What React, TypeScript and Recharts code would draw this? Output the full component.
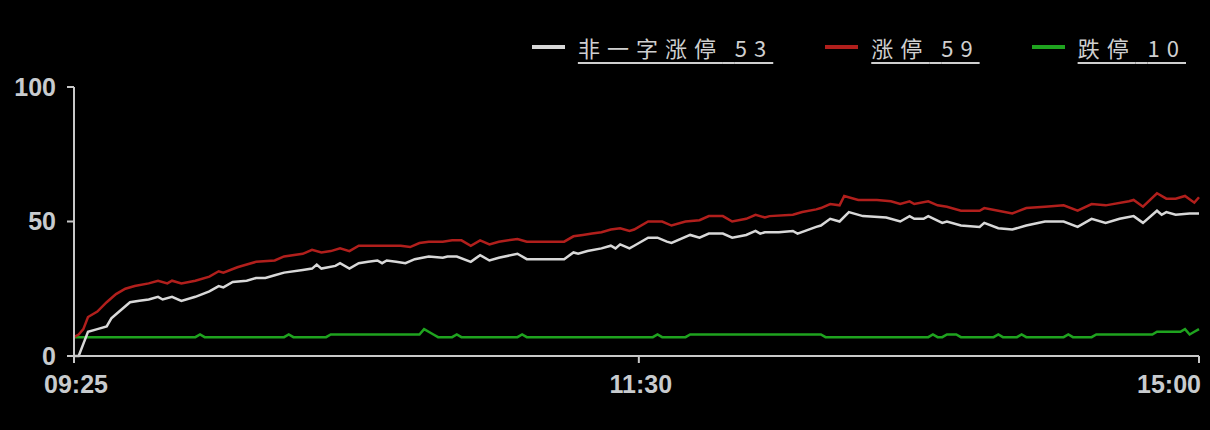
import React from 'react';
import { LineChart, Line, XAxis, YAxis } from 'recharts';

// x positions are trading-minute indexes: 0 = 09:25, 121 = 11:30, 241 = 15:00
const X_TICKS = [0, 121, 241];
const X_LABELS = ['09:25', '11:30', '15:00'];
const Y_TICKS = [0, 50, 100];

const whiteT = [0, 1, 2, 3, 5, 7, 8, 9, 11, 12, 14, 16, 18, 19, 21, 23, 26, 29, 31, 32, 34, 37, 39, 41, 43, 45, 49, 51, 52, 53, 56, 57, 59, 61, 63, 65, 66, 67, 69, 71, 73, 76, 79, 80, 82, 85, 87, 89, 91, 95, 97, 99, 105, 107, 108, 110, 113, 115, 116, 117, 119, 120, 123, 125, 127, 128, 132, 134, 136, 139, 141, 144, 146, 147, 148, 151, 154, 155, 159, 160, 162, 164, 166, 169, 174, 177, 179, 180, 182, 183, 186, 187, 190, 194, 195, 198, 201, 204, 208, 212, 215, 218, 221, 224, 227, 229, 232, 233, 234, 236, 239, 241];
const whiteV = [0, 0, 4.5, 9, 10, 11, 14, 15.5, 18.5, 20, 20.5, 21, 22, 21, 22, 20.5, 22, 24, 26, 25.5, 27.5, 28, 29, 29, 30, 31, 32, 32.5, 34, 32.5, 33.5, 34.5, 32.5, 34.5, 35, 35.5, 34.5, 35.5, 35, 34.5, 36, 37, 36.5, 37, 37, 35, 37.5, 35.5, 36.5, 38, 36, 36, 36, 38.5, 38, 39, 40, 41, 40, 41.5, 40, 41, 44, 44, 42.5, 42, 45, 44, 45.5, 45.5, 44, 45, 46.5, 45.5, 46, 46, 46.5, 45.5, 48, 48.5, 51, 50, 53.5, 52, 51.5, 50, 52, 51, 51, 52, 49.5, 50, 48.5, 48, 49.5, 47.5, 47, 48.5, 50, 50, 48, 51, 49.5, 51, 52, 49.5, 54, 52.5, 53.5, 52.5, 53, 53];

const redT = [0, 1, 2, 3, 5, 7, 9, 11, 13, 16, 18, 20, 21, 23, 26, 29, 31, 32, 35, 37, 39, 43, 45, 49, 51, 53, 55, 57, 59, 61, 64, 67, 70, 72, 74, 76, 79, 81, 83, 85, 87, 89, 91, 95, 97, 100, 105, 107, 109, 111, 113, 115, 117, 119, 120, 123, 126, 128, 131, 134, 136, 139, 141, 144, 146, 148, 149, 154, 156, 159, 160, 162, 164, 165, 168, 172, 175, 177, 179, 180, 183, 185, 187, 190, 194, 195, 198, 201, 204, 208, 212, 215, 218, 221, 226, 227, 229, 232, 234, 236, 238, 240, 241];
const redV = [7, 8, 10, 14.5, 16.5, 20, 23, 25, 26, 27, 28, 27, 28, 27, 28, 29.5, 31.5, 31, 33, 34, 35, 35.5, 37, 38, 39.5, 38.5, 39, 40, 39, 41, 41, 41, 41, 40.5, 42, 42.5, 42.5, 43, 43, 41, 43, 41.5, 42.5, 43.5, 42.5, 42.5, 42.5, 44.5, 45, 45.5, 46, 47, 47.5, 46.5, 47, 50, 50, 48.5, 50, 50.5, 52, 52, 50, 51, 52.5, 51.5, 52, 52.5, 53.5, 54.5, 55, 56.5, 56, 59.5, 58, 58, 57.5, 56.5, 57.5, 56.5, 57.5, 56, 55.5, 54, 54, 55, 54, 53, 55, 55.5, 56, 54, 56.5, 56, 57.5, 58, 55.5, 60.5, 58.5, 58.5, 59.5, 57, 59];

const greenT = [0, 26, 27, 28, 45, 46, 47, 54, 55, 74, 75, 77, 78, 81, 82, 83, 95, 96, 97, 124, 125, 126, 131, 132, 160, 161, 183, 184, 185, 186, 187, 189, 190, 197, 198, 199, 202, 203, 204, 212, 213, 214, 218, 219, 231, 232, 234, 237, 238, 239, 240, 241];
const greenV = [7, 7, 8, 7, 7, 8, 7, 7, 8, 8, 10, 8, 7, 7, 8, 7, 7, 8, 7, 7, 8, 7, 7, 8, 8, 7, 7, 8, 7, 7, 8, 8, 7, 7, 8, 7, 7, 8, 7, 7, 8, 7, 7, 8, 8, 9, 9, 9, 10, 8, 9, 10];

const LEGEND_NAMES = ['非一字涨停', '涨停', '跌停'];
const LEGEND_COUNTS = [53, 59, 10];
const COLORS = ['#d8d8d8', '#b11f1c', '#1fa31f'];

const NUM_FONT = '"Liberation Sans", Arial, sans-serif';

const toPoints = (t: number[], v: number[]) => t.map((x, i) => ({ t: x, v: v[i] }));

const XTick = (props: any) => {
  const { x, y, payload, index } = props;
  const last = index === X_TICKS.length - 1;
  return (
    <text
      x={x + 2}
      y={y}
      dy="0.71em"
      textAnchor={last ? 'end' : 'middle'}
      fill="#c8cbce"
      fontSize={25}
      fontWeight={700}
      fontFamily={NUM_FONT}
    >
      {X_LABELS[X_TICKS.indexOf(payload.value)]}
    </text>
  );
};

export default function App() {
  const series = [toPoints(whiteT, whiteV), toPoints(redT, redV), toPoints(greenT, greenV)];

  return (
    <div style={{ position: 'fixed', left: 0, top: 0, width: 1210, height: 430, background: '#000', overflow: 'hidden' }}>
      <LineChart width={1210} height={430} margin={{ top: 87, right: 11, bottom: 0, left: 0 }}>
        <XAxis
          type="number"
          dataKey="t"
          domain={[0, 241]}
          ticks={X_TICKS}
          interval={0}
          height={74}
          stroke="#c8c8c8"
          strokeWidth={2}
          tickSize={7}
          tickMargin={12}
          tick={<XTick />}
        />
        <YAxis
          type="number"
          domain={[0, 100]}
          ticks={Y_TICKS}
          interval={0}
          width={74}
          stroke="#c8c8c8"
          strokeWidth={2}
          tickSize={7}
          tickMargin={11}
          tick={{ fill: '#c8cbce', fontSize: 25, fontWeight: 700, fontFamily: NUM_FONT }}
        />
        {[2, 1, 0].map((k) => (
          <Line
            key={k}
            data={series[k]}
            dataKey="v"
            type="linear"
            stroke={COLORS[k]}
            strokeWidth={2.5}
            dot={false}
            activeDot={false}
            isAnimationActive={false}
          />
        ))}
      </LineChart>
      <div
        style={{
          position: 'absolute',
          top: 32,
          right: 24,
          display: 'flex',
          alignItems: 'center',
          gap: 52,
          fontFamily: '"Noto Sans CJK SC", sans-serif',
          fontSize: 22,
          letterSpacing: 7,
          color: '#cfcfcf',
        }}
      >
        {LEGEND_NAMES.map((name, k) => (
          <div key={name} style={{ display: 'flex', alignItems: 'center' }}>
            <span style={{ display: 'inline-block', width: 33, height: 4, background: COLORS[k], marginRight: 13 }} />
            <span style={{ textDecoration: 'underline', textUnderlineOffset: 5, lineHeight: '30px' }}>
              {name} {LEGEND_COUNTS[k]}
            </span>
          </div>
        ))}
      </div>
    </div>
  );
}
